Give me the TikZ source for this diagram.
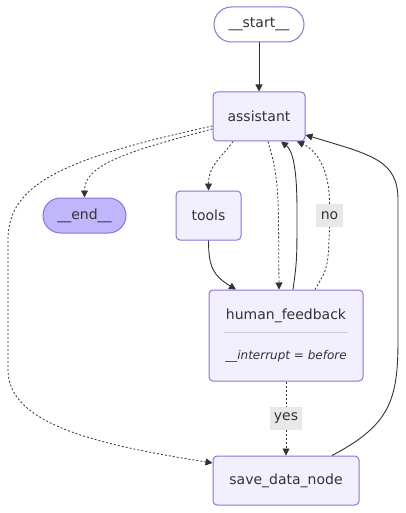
\documentclass[tikz,border=0pt]{standalone}
\usepackage{fontspec}
\setmainfont{DejaVu Sans}
\usetikzlibrary{arrows.meta}
\definecolor{nodefill}{HTML}{F2F0FF}
\definecolor{nodeline}{HTML}{9370DB}
\definecolor{endfill}{HTML}{BFB6FC}
\definecolor{ink}{HTML}{333333}
\definecolor{lblbg}{HTML}{E8E8E8}
\definecolor{sepline}{HTML}{CFCCD8}
\begin{document}
\begin{tikzpicture}[x=1pt,y=-1pt,
  font=\fontsize{14}{16}\selectfont,
  box/.style={draw=nodeline, fill=nodefill, line width=1pt, rounded corners=4pt, inner sep=0pt, text=ink},
  pill/.style={box, rounded corners=17.5pt},
  flow/.style={draw=ink, line width=0.9pt, -{Triangle[length=7pt,width=7pt]}},
  plainflow/.style={draw=ink, line width=0.9pt},
  dotflow/.style={flow, line width=0.8pt, dash pattern=on 2pt off 2pt},
  dotplain/.style={plainflow, line width=0.8pt, dash pattern=on 2pt off 2pt},
  lbl/.style={fill=lblbg, inner sep=0pt, minimum height=23pt, text=ink},
  txt/.style={inner sep=0pt, text=ink}]
\fill[white] (0,0) rectangle (406,513);
\useasboundingbox (0,0) rectangle (406,513);

% nodes
\node[pill, fill=white, minimum width=90pt, minimum height=35pt] (start) at (259,24.5) {\_\_start\_\_};
\node[box, minimum width=92pt, minimum height=49pt] (assistant) at (259,116.5) {assistant};
\node[pill, fill=endfill, minimum width=83pt, minimum height=35pt] (end) at (84.5,215.5) {\_\_end\_\_};
\node[box, minimum width=65pt, minimum height=49pt] (tools) at (208.5,215.5) {tools};
\node[box, minimum width=154pt, minimum height=91pt] (hf) at (286,335.5) {};
\node[txt] (hftitle) at (286,316) {human\_feedback};
\node[txt, font=\fontsize{12}{14}\selectfont\itshape] (hfnote) at (286,356) {\_\_interrupt = before};
\coordinate (sepL) at (224,332);
\coordinate (sepR) at (348,332);
\draw[sepline, line width=1pt] (sepL) -- (sepR);
\node[box, minimum width=146pt, minimum height=49pt] (save) at (286,480.5) {save\_data\_node};
\node[lbl, minimum width=27pt] (no) at (329.5,215.5) {no};
\node[lbl, minimum width=32pt] (yes) at (286,418.5) {yes};

% edges
\draw[flow] (start) -- (assistant);
\draw[dotflow] ([yshift=-12.5pt]assistant.west) .. controls (125,152) and (84.5,165) .. (end.north);
\draw[dotflow] ([yshift=-9.5pt]assistant.west) .. controls (60,159) and (8,185) .. (8,240) -- (8,370)
   .. controls (8,425) and (100,445) .. ([yshift=17.5pt]save.west);
\draw[dotflow] ([xshift=-26pt]assistant.south) .. controls (222,157) and (208.5,165) .. (tools.north);
\draw[dotflow] ([xshift=9pt]assistant.south) .. controls (276,168) and (278,185) .. (278.5,220) -- ([xshift=-7pt]hf.north);
\draw[flow] ([xshift=7pt]hf.north) .. controls (297,260) .. (297,210) .. controls (297,165) and (292,150) .. ([xshift=22pt]assistant.south);
\draw[dotplain] ([xshift=29pt]hf.north) .. controls (328,268) .. (no.south);
\draw[dotflow] (no.north) .. controls (329.5,168) and (316,150) .. ([xshift=38pt]assistant.south);
\draw[flow] (tools.south) .. controls (208.5,268) and (214,276) .. ([xshift=-50pt]hf.north);
\draw[dotplain] (hf.south) -- (yes.north);
\draw[dotflow] (yes.south) -- (save.north);
\draw[flow] ([xshift=46pt]save.north) .. controls (390,425) and (398,400) .. (398,340) -- (398,200)
   .. controls (398,160) and (372,155) .. ([yshift=-18.5pt]assistant.east);
\end{tikzpicture}
\end{document}
